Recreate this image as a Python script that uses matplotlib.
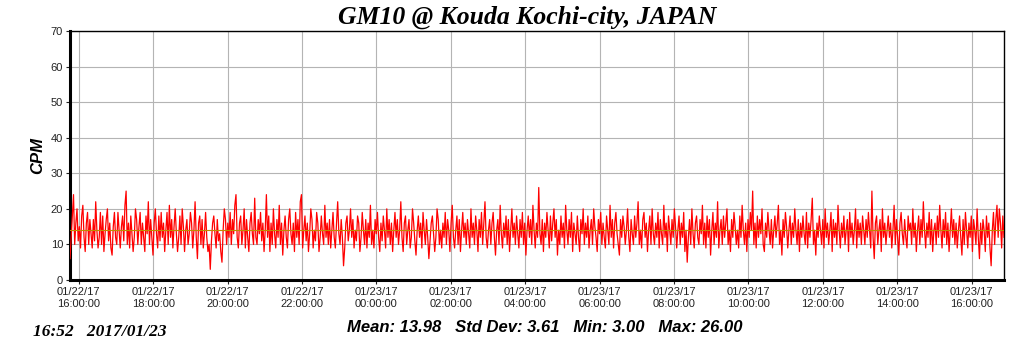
import numpy as np
import pandas as pd
import matplotlib
matplotlib.use("Agg")
import matplotlib.pyplot as plt
import matplotlib.dates as mdates

# CPM readings (01/22/17 15:46 -> 01/23/17 16:52)
cpm = [
    6, 12, 18, 24, 10, 16, 20, 11, 15, 9, 18, 21, 12, 8, 16, 19, 10, 17, 13, 9,
    17, 11, 22, 14, 9, 12, 19, 10, 18, 8, 13, 17, 20, 11, 16, 9, 7, 15, 19, 12,
    10, 19, 14, 9, 15, 18, 11, 21, 25, 10, 16, 9, 18, 13, 8, 12, 20, 17, 10, 15,
    19, 10, 16, 12, 8, 18, 13, 22, 10, 17, 12, 7, 16, 20, 13, 9, 18, 11, 19, 12,
    16, 8, 14, 19, 10, 21, 12, 17, 9, 15, 20, 13, 8, 12, 18, 10, 20, 15, 8, 14,
    17, 10, 13, 19, 16, 9, 14, 22, 12, 6, 16, 18, 10, 17, 9, 13, 19, 12, 8, 10,
    3, 11, 16, 18, 13, 9, 17, 11, 13, 8, 5, 14, 20, 17, 10, 16, 12, 19, 10, 17,
    13, 21, 24, 12, 9, 16, 18, 10, 14, 20, 9, 17, 12, 8, 16, 19, 13, 10, 23, 12,
    10, 17, 13, 19, 11, 16, 8, 14, 24, 12, 18, 8, 16, 10, 20, 13, 9, 17, 12, 21,
    10, 16, 7, 14, 18, 12, 9, 17, 20, 13, 10, 16, 8, 19, 12, 17, 10, 22, 24, 9,
    14, 18, 11, 16, 8, 13, 20, 17, 9, 14, 11, 19, 16, 8, 12, 18, 13, 10, 21, 12,
    16, 10, 17, 9, 14, 19, 12, 9, 16, 22, 13, 10, 17, 12, 4, 9, 16, 18, 11, 14,
    20, 12, 17, 9, 14, 11, 18, 16, 8, 12, 19, 14, 10, 17, 9, 16, 12, 21, 10, 14,
    9, 17, 13, 19, 12, 8, 16, 11, 18, 14, 9, 20, 12, 17, 10, 16, 8, 14, 19, 12,
    17, 10, 14, 22, 12, 8, 16, 18, 10, 14, 17, 9, 12, 20, 16, 11, 7, 14, 18, 12,
    16, 9, 19, 14, 10, 17, 12, 6, 11, 16, 18, 13, 8, 12, 20, 17, 10, 14, 9, 16,
    12, 19, 10, 17, 14, 8, 16, 21, 12, 9, 14, 18, 10, 17, 8, 14, 19, 12, 16, 10,
    17, 13, 9, 20, 12, 16, 10, 18, 14, 8, 17, 12, 19, 10, 16, 22, 12, 9, 14, 17,
    10, 16, 19, 12, 7, 14, 17, 10, 21, 13, 9, 16, 12, 18, 10, 17, 8, 14, 20, 12,
    16, 10, 18, 13, 9, 17, 12, 19, 10, 16, 7, 14, 18, 12, 17, 10, 21, 14, 9, 16,
    12, 26, 13, 10, 17, 8, 16, 12, 19, 14, 9, 18, 11, 16, 20, 12, 17, 7, 14, 10,
    18, 12, 16, 9, 21, 14, 10, 17, 12, 19, 8, 16, 13, 10, 18, 12, 8, 17, 13, 20,
    10, 16, 12, 18, 9, 14, 17, 10, 20, 15, 12, 8, 17, 13, 19, 10, 16, 12, 9, 18,
    14, 10, 21, 12, 17, 9, 16, 19, 13, 10, 7, 17, 12, 18, 15, 10, 14, 20, 12, 8,
    17, 13, 10, 18, 12, 16, 22, 10, 14, 9, 17, 19, 12, 16, 8, 14, 18, 10, 20, 13,
    10, 16, 12, 19, 9, 17, 13, 10, 21, 12, 16, 8, 18, 14, 10, 17, 12, 20, 15, 9,
    14, 18, 10, 16, 12, 19, 8, 14, 5, 12, 17, 10, 20, 13, 9, 16, 18, 12, 10, 17,
    13, 21, 10, 16, 9, 18, 12, 17, 7, 14, 19, 10, 16, 12, 22, 9, 14, 17, 10, 18,
    12, 16, 20, 10, 14, 8, 17, 12, 19, 15, 10, 14, 9, 18, 12, 21, 14, 10, 16, 8,
    17, 12, 19, 14, 25, 10, 16, 9, 18, 12, 17, 13, 20, 10, 8, 16, 12, 19, 14, 10,
    17, 9, 14, 18, 12, 16, 21, 10, 14, 7, 17, 12, 19, 15, 9, 14, 18, 10, 16, 12,
    20, 14, 10, 17, 8, 16, 12, 18, 13, 10, 19, 9, 16, 12, 17, 23, 10, 14, 7, 16,
    12, 18, 14, 10, 17, 9, 20, 12, 16, 10, 14, 19, 8, 17, 12, 16, 10, 21, 14, 9,
    16, 12, 18, 10, 14, 17, 8, 19, 12, 16, 10, 14, 20, 9, 17, 12, 16, 10, 18, 14,
    10, 17, 12, 19, 14, 9, 25, 12, 6, 16, 18, 10, 14, 17, 8, 20, 12, 16, 10, 14,
    18, 12, 16, 9, 14, 21, 10, 17, 12, 7, 16, 19, 13, 10, 17, 12, 9, 18, 14, 16,
    10, 20, 12, 16, 8, 14, 18, 10, 17, 12, 22, 14, 9, 16, 12, 19, 10, 17, 8, 14,
    16, 10, 18, 12, 21, 14, 9, 17, 12, 19, 10, 16, 8, 14, 20, 12, 17, 10, 16, 9,
    14, 18, 12, 7, 17, 10, 19, 14, 9, 16, 12, 18, 8, 17, 14, 10, 20, 12, 6, 16,
    10, 17, 14, 8, 18, 12, 16, 9, 4, 14, 19, 10, 17, 21, 12, 20, 16, 9, 18, 12,
]
t_start = "2017-01-22 15:46"
t_end = "2017-01-23 16:52"
mean_cpm = 13.98
title = "GM10 @ Kouda Kochi-city, JAPAN"
stats = "Mean: 13.98   Std Dev: 3.61   Min: 3.00   Max: 26.00"
stamp = "16:52   2017/01/23"

times = pd.date_range(t_start, t_end, periods=len(cpm))

fig = plt.figure(figsize=(10.24, 3.51), dpi=100)
ax = fig.add_axes([70 / 1024, 1 - 280 / 351, 934 / 1024, 249 / 351])

ax.plot(times, cpm, color="#ff0000", lw=0.9, zorder=3)
ax.axhline(mean_cpm, color="#c08a00", lw=0.8, zorder=4)

ax.set_ylim(0, 70)
ax.set_xlim(times[0], times[-1])
ax.set_yticks(range(0, 71, 10))
ax.xaxis.set_major_locator(mdates.HourLocator(byhour=range(0, 24, 2)))
ax.xaxis.set_major_formatter(mdates.DateFormatter("%m/%d/%y\n%H:%M:%S"))
ax.grid(True, color="#b4b4b4", lw=0.8, zorder=0)

for lab in ax.get_xticklabels() + ax.get_yticklabels():
    lab.set_fontfamily("Liberation Sans")
    lab.set_fontsize(8)
ax.tick_params(length=3, width=0.8, pad=2, colors="#222222")

ax.spines["left"].set_linewidth(2.2)
ax.spines["bottom"].set_linewidth(2.2)
ax.spines["top"].set_linewidth(1.0)
ax.spines["right"].set_linewidth(1.0)

ax.set_ylabel("CPM", fontfamily="Liberation Sans", fontsize=12,
              fontweight="bold", fontstyle="italic", labelpad=4)

fig.text(0.515, 0.950, title, ha="center", va="center",
         fontfamily="Liberation Serif", fontsize=18.5, fontweight="bold", fontstyle="italic")
fig.text(0.532, 0.068, stats, ha="center", va="center",
         fontfamily="Liberation Sans", fontsize=12, fontweight="bold", fontstyle="italic")
fig.text(33 / 1024, 0.055, stamp, ha="left", va="center",
         fontfamily="Liberation Serif", fontsize=12.5, fontweight="bold", fontstyle="italic")

fig.savefig("out.png", dpi=100)
